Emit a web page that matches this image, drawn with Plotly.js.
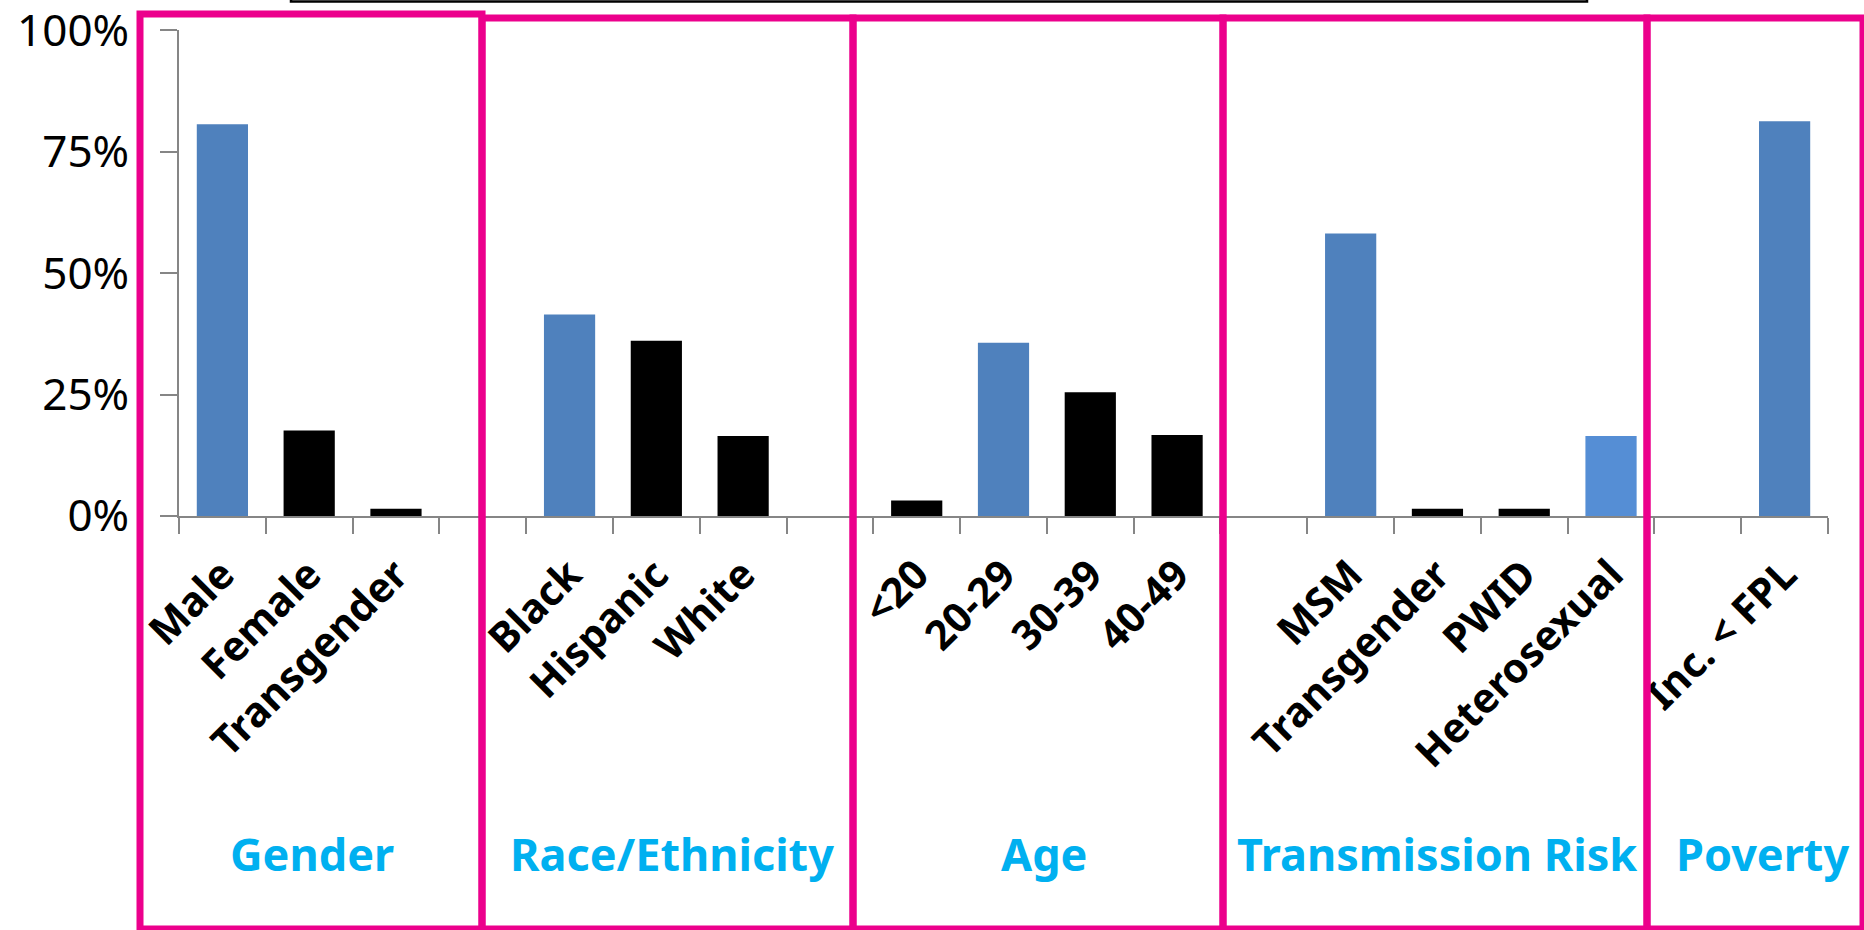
<!DOCTYPE html>
<html>
<head>
<meta charset="utf-8">
<script src="https://cdn.plot.ly/plotly-3.0.1.min.js"></script>
<style>html,body{margin:0;padding:0;background:#fff;}#chart{width:1864px;height:930px;}</style>
</head>
<body>
<div id="chart"></div>
<script>
// ---- data ----
var categories = ['Male','Female','Transgender','','Black','Hispanic','White','','<20','20-29','30-39','40-49','','MSM','Transgender','PWID','Heterosexual','','Inc. < FPL'];
var values = [0.807, 0.176, 0.015, null, 0.415, 0.361, 0.165, null, 0.032, 0.357, 0.255, 0.167, null, 0.582, 0.015, 0.015, 0.165, null, 0.813];
var highlighted = [true, false, false, false, true, false, false, false, false, true, false, false, false, true, false, false, true, false, true];
var groupNames = ['Gender', 'Race/Ethnicity', 'Age', 'Transmission Risk', 'Poverty'];
var yTickVals = [0, 0.25, 0.5, 0.75, 1];
var yTickText = ['0%', '25%', '50%', '75%', '100%'];

// ---- layout geometry ----
var W = 1864, H = 930;
var M = {l: 179, r: 36, t: 30, b: 414};
var PW = W - M.l - M.r, PH = H - M.t - M.b;
function px(x) { return (x - M.l) / PW; }
function py(y) { return (H - M.b - y) / PH; }

var idx = categories.map(function (_, i) { return i; });
var barColors = highlighted.map(function (h, i) {
  if (!h) return '#000000';
  return categories[i] === 'Heterosexual' ? '#558ED5' : '#4F81BD';
});
var tickText = categories.map(function (c) { return c.replace(/</g, '&lt;'); });

var trace = {
  type: 'bar',
  x: idx,
  y: values,
  marker: {color: barColors, line: {width: 0}},
  width: 0.59,
  hoverinfo: 'skip'
};

// group boxes (pixel positions)
var boxes = [
  {x0: 140, x1: 482, y0: 14},
  {x0: 482, x1: 853, y0: 18},
  {x0: 853, x1: 1223, y0: 18},
  {x0: 1223, x1: 1647, y0: 18},
  {x0: 1647, x1: 1863, y0: 18}
];
var labelX = [312, 672, 1044, 1437, 1762];

var shapes = boxes.map(function (b) {
  return {type: 'rect', xref: 'paper', yref: 'paper', layer: 'above',
    x0: px(b.x0), x1: px(b.x1), y0: py(b.y0), y1: py(929),
    line: {color: '#EC008C', width: 7}, fillcolor: 'rgba(0,0,0,0)'};
});
shapes.push({type: 'rect', xref: 'paper', yref: 'paper', layer: 'above',
  x0: px(291), x1: px(1587), y0: py(-20), y1: py(1.5),
  line: {color: '#000000', width: 2.5}, fillcolor: 'rgba(0,0,0,0)'});

var annotations = groupNames.map(function (g, i) {
  return {text: '<b>' + g + '</b>', xref: 'paper', yref: 'paper',
    x: px(labelX[i]), y: py(853), xanchor: 'center', yanchor: 'middle',
    showarrow: false, font: {family: 'Noto Sans', size: 45, color: '#00B0F0'}};
});

var layout = {
  width: W, height: H,
  margin: M,
  paper_bgcolor: '#ffffff', plot_bgcolor: '#ffffff',
  showlegend: false,
  bargap: 0.41,
  xaxis: {
    type: 'linear', range: [-0.5, 18.5], fixedrange: true,
    tickmode: 'array', tickvals: idx, ticktext: tickText,
    ticks: '', tickangle: -45,
    tickfont: {family: 'Noto Sans', size: 41, color: '#000000', weight: 'bold'},
    ticklabelstandoff: 16,
    showgrid: false, zeroline: false,
    showline: true, linecolor: '#868686', linewidth: 2,
    minor: {tickmode: 'linear', tick0: -0.5, dtick: 1, ticks: 'outside', ticklen: 16, tickwidth: 2, tickcolor: '#868686', showgrid: false}
  },
  yaxis: {
    range: [0, 1.001], fixedrange: true,
    tickmode: 'array', tickvals: yTickVals, ticktext: yTickText,
    ticks: 'outside', ticklen: 17, tickwidth: 2, tickcolor: '#868686',
    tickfont: {family: 'Noto Sans', size: 44, color: '#000000'},
    ticklabelstandoff: 22, ticklabeloverflow: 'allow',
    showgrid: false, zeroline: false,
    showline: true, linecolor: '#868686', linewidth: 2
  },
  shapes: shapes,
  annotations: annotations
};

Plotly.newPlot('chart', [trace], layout, {displayModeBar: false, staticPlot: true});
</script>
</body>
</html>
